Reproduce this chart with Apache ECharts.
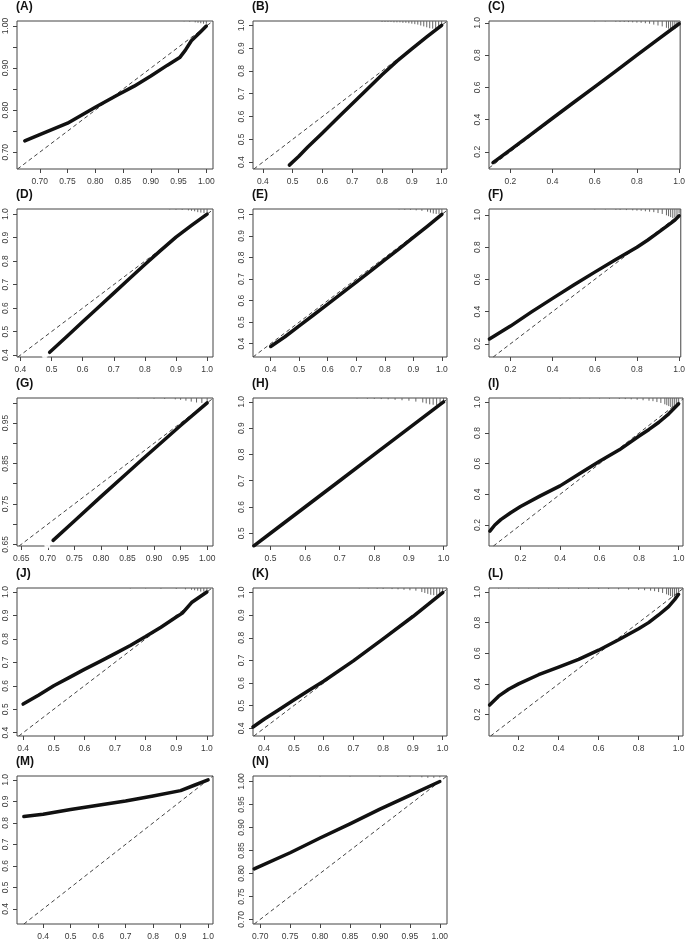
<!DOCTYPE html>
<html>
<head>
<meta charset="utf-8">
<script src="https://cdn.jsdelivr.net/npm/echarts@6/dist/echarts.min.js"></script>
<style>
html, body { margin: 0; padding: 0; background: #fff; }
#main { width: 688px; height: 944px; }
</style>
</head>
<body>
<div id="main"></div>
<script>
// calibration curves (predicted, observed), one per panel
const curveA = [[0.673,0.727],[0.70,0.742],[0.75,0.769],[0.80,0.807],[0.84,0.836],[0.87,0.857],[0.90,0.881],[0.93,0.907],[0.952,0.925],[0.962,0.942],[0.973,0.965],[0.988,0.984],[1.0,1.0]];
const curveB = [[0.489,0.387],[0.52,0.425],[0.55,0.465],[0.6,0.528],[0.65,0.592],[0.7,0.656],[0.75,0.72],[0.8,0.783],[0.85,0.843],[0.9,0.897],[0.95,0.949],[1.0,1.0]];
const curveC = [[0.118,0.132],[0.2,0.212],[0.3,0.31],[0.4,0.408],[0.5,0.506],[0.6,0.603],[0.7,0.701],[0.8,0.8],[0.9,0.898],[1.0,0.995]];
const curveD = [[0.494,0.412],[0.55,0.48],[0.6,0.542],[0.65,0.603],[0.7,0.664],[0.75,0.725],[0.8,0.786],[0.85,0.845],[0.9,0.902],[0.95,0.952],[1.0,1.0]];
const curveE = [[0.4,0.387],[0.45,0.432],[0.5,0.482],[0.55,0.533],[0.6,0.583],[0.65,0.634],[0.7,0.686],[0.75,0.737],[0.8,0.789],[0.85,0.84],[0.9,0.893],[0.95,0.946],[1.0,1.0]];
const curveF = [[0.1,0.23],[0.15,0.27],[0.2,0.31],[0.3,0.398],[0.4,0.482],[0.5,0.565],[0.6,0.645],[0.7,0.723],[0.8,0.8],[0.85,0.843],[0.9,0.89],[0.95,0.938],[0.98,0.968],[1.0,0.995]];
const curveG = [[0.71,0.66],[0.75,0.708],[0.8,0.768],[0.85,0.827],[0.875,0.857],[0.9,0.886],[0.95,0.944],[1.0,1.0]];
const curveH = [[0.452,0.452],[0.5,0.5],[0.6,0.6],[0.7,0.7],[0.8,0.8],[0.9,0.9],[1.0,1.0]];
const curveI = [[0.045,0.16],[0.07,0.2],[0.1,0.235],[0.15,0.28],[0.2,0.32],[0.3,0.39],[0.4,0.455],[0.5,0.535],[0.6,0.615],[0.7,0.69],[0.8,0.78],[0.85,0.823],[0.9,0.87],[0.95,0.925],[1.0,0.99]];
const curveJ = [[0.4,0.522],[0.45,0.56],[0.5,0.6],[0.55,0.635],[0.6,0.67],[0.65,0.703],[0.7,0.737],[0.75,0.772],[0.8,0.81],[0.85,0.85],[0.9,0.893],[0.92,0.91],[0.95,0.955],[1.0,1.0]];
const curveK = [[0.363,0.406],[0.4,0.44],[0.45,0.482],[0.5,0.525],[0.55,0.567],[0.6,0.608],[0.7,0.698],[0.8,0.795],[0.9,0.894],[1.0,1.0]];
const curveL = [[0.055,0.262],[0.1,0.32],[0.15,0.365],[0.2,0.4],[0.3,0.46],[0.4,0.51],[0.5,0.56],[0.6,0.62],[0.7,0.688],[0.8,0.76],[0.85,0.8],[0.9,0.85],[0.95,0.905],[0.98,0.95],[1.0,0.985]];
const curveM = [[0.33,0.83],[0.4,0.84],[0.5,0.862],[0.6,0.882],[0.7,0.902],[0.8,0.925],[0.9,0.95],[0.95,0.975],[1.0,1.0]];
const curveN = [[0.69,0.81],[0.75,0.845],[0.8,0.877],[0.85,0.908],[0.9,0.94],[0.95,0.97],[1.0,1.0]];

// first (open) points in D and G
const openD = [[0.478,0.398]];
const openG = [[0.699,0.647]];

// spike histograms of predictions along the top (x, relative frequency)
const spikeA = [[0.96,0.04],[0.97,0.08],[0.98,0.15],[0.985,0.2],[0.99,0.25],[0.995,0.3],[1.0,0.3]];
const spikeB = [[0.80,0.1],[0.81,0.1],[0.82,0.1],[0.83,0.1],[0.84,0.15],[0.85,0.15],[0.86,0.15],[0.87,0.2],[0.88,0.2],[0.89,0.25],[0.90,0.3],[0.91,0.35],[0.92,0.4],[0.93,0.5],[0.94,0.6],[0.95,0.7],[0.96,0.8],[0.97,0.85],[0.98,0.9],[0.99,0.8],[1.0,0.5]];
const spikeC = [[0.6,0.05],[0.65,0.05],[0.7,0.08],[0.72,0.1],[0.74,0.1],[0.76,0.12],[0.78,0.15],[0.8,0.18],[0.82,0.2],[0.84,0.25],[0.86,0.3],[0.88,0.4],[0.9,0.5],[0.92,0.6],[0.94,0.75],[0.95,0.85],[0.96,0.9],[0.97,0.95],[0.98,0.9],[0.99,0.7],[1.0,0.4]];
const spikeD = [[0.88,0.05],[0.9,0.08],[0.92,0.1],[0.94,0.15],[0.95,0.2],[0.96,0.25],[0.97,0.35],[0.98,0.4],[0.99,0.45],[1.0,0.4]];
const spikeE = [[0.85,0.05],[0.87,0.08],[0.89,0.1],[0.91,0.15],[0.93,0.2],[0.95,0.3],[0.96,0.4],[0.97,0.5],[0.98,0.55],[0.99,0.55],[1.0,0.45]];
const spikeF = [[0.6,0.05],[0.65,0.05],[0.7,0.08],[0.72,0.1],[0.75,0.12],[0.78,0.15],[0.8,0.18],[0.82,0.2],[0.84,0.25],[0.86,0.3],[0.88,0.35],[0.9,0.45],[0.92,0.55],[0.94,0.7],[0.95,0.8],[0.96,0.9],[0.97,1.0],[0.98,0.95],[0.99,0.8],[1.0,0.5]];
const spikeG = [[0.87,0.05],[0.9,0.08],[0.92,0.1],[0.94,0.15],[0.95,0.2],[0.96,0.3],[0.97,0.4],[0.98,0.5],[0.99,0.55],[1.0,0.45]];
const spikeH = [[0.75,0.05],[0.78,0.08],[0.8,0.1],[0.82,0.12],[0.84,0.15],[0.86,0.2],[0.88,0.25],[0.9,0.3],[0.92,0.4],[0.94,0.5],[0.95,0.6],[0.96,0.7],[0.97,0.75],[0.98,0.8],[0.99,0.7],[1.0,0.5]];
const spikeI = [[0.4,0.03],[0.45,0.04],[0.5,0.05],[0.55,0.05],[0.6,0.06],[0.65,0.08],[0.7,0.1],[0.73,0.12],[0.76,0.15],[0.79,0.2],[0.82,0.25],[0.85,0.3],[0.87,0.35],[0.89,0.45],[0.91,0.55],[0.93,0.7],[0.94,0.8],[0.95,0.9],[0.96,1.0],[0.97,1.0],[0.98,0.95],[0.99,0.8],[1.0,0.5]];
const spikeJ = [[0.75,0.05],[0.8,0.05],[0.85,0.08],[0.9,0.1],[0.93,0.15],[0.95,0.2],[0.96,0.25],[0.97,0.3],[0.98,0.4],[0.99,0.4],[1.0,0.35]];
const spikeK = [[0.72,0.05],[0.75,0.06],[0.78,0.08],[0.8,0.1],[0.83,0.12],[0.85,0.15],[0.87,0.2],[0.89,0.25],[0.91,0.3],[0.93,0.45],[0.94,0.55],[0.95,0.65],[0.96,0.75],[0.97,0.8],[0.98,0.8],[0.99,0.7],[1.0,0.45]];
const spikeL = [[0.1,0.05],[0.15,0.04],[0.2,0.05],[0.25,0.04],[0.3,0.06],[0.35,0.05],[0.4,0.08],[0.45,0.06],[0.5,0.08],[0.55,0.1],[0.6,0.1],[0.65,0.12],[0.7,0.15],[0.75,0.18],[0.8,0.2],[0.83,0.25],[0.86,0.3],[0.88,0.35],[0.9,0.45],[0.92,0.55],[0.94,0.7],[0.95,0.8],[0.96,0.9],[0.97,1.0],[0.98,0.95],[0.99,0.85],[1.0,0.5]];
const spikeM = [];
const spikeN = [[0.75,0.05],[0.8,0.05],[0.85,0.06],[0.9,0.08],[0.93,0.1],[0.95,0.12],[0.97,0.15],[0.98,0.2],[0.99,0.2],[1.0,0.15]];

// tick values and labelled ticks
const t2 = [0.2, 0.4, 0.6, 0.8, 1.0];
const t4 = [0.4, 0.5, 0.6, 0.7, 0.8, 0.9, 1.0];
const t5 = [0.5, 0.6, 0.7, 0.8, 0.9, 1.0];
const t65 = [0.65, 0.70, 0.75, 0.80, 0.85, 0.90, 0.95, 1.00];
const t70 = [0.70, 0.75, 0.80, 0.85, 0.90, 0.95, 1.00];
const lab70 = [0.70, 0.80, 0.90, 1.00];
const lab65 = [0.65, 0.75, 0.85, 0.95];

const panels = [
  { name: '(A)', curve: curveA, spikes: spikeA, xr: [0.659, 1.012], yr: [0.66, 1.012], xt: t70, xl: t70, yt: t70, yl: lab70, dx: 2, dy: 2 },
  { name: '(B)', curve: curveB, spikes: spikeB, xr: [0.367, 1.018], yr: [0.37, 1.019], xt: t4, xl: t4, yt: t4, yl: t4, dx: 1, dy: 1 },
  { name: '(C)', curve: curveC, spikes: spikeC, xr: [0.099, 1.005], yr: [0.093, 1.012], xt: t2, xl: t2, yt: t2, yl: t2, dx: 1, dy: 1 },
  { name: '(D)', curve: curveD, spikes: spikeD, open: openD, xr: [0.389, 1.019], yr: [0.392, 1.022], xt: t4, xl: t4, yt: t4, yl: t4, dx: 1, dy: 1 },
  { name: '(E)', curve: curveE, spikes: spikeE, xr: [0.338, 1.018], yr: [0.338, 1.025], xt: t4, xl: t4, yt: t4, yl: t4, dx: 1, dy: 1 },
  { name: '(F)', curve: curveF, spikes: spikeF, xr: [0.098, 1.008], yr: [0.118, 1.037], xt: t2, xl: t2, yt: t2, yl: t2, dx: 1, dy: 1 },
  { name: '(G)', curve: curveG, spikes: spikeG, open: openG, xr: [0.642, 1.011], yr: [0.646, 1.012], xt: t65, xl: t65, yt: t65, yl: lab65, dx: 2, dy: 2 },
  { name: '(H)', curve: curveH, spikes: spikeH, xr: [0.4495, 1.01], yr: [0.4515, 1.015], xt: t5, xl: t5, yt: t5, yl: t5, dx: 1, dy: 1 },
  { name: '(I)', curve: curveI, spikes: spikeI, xr: [0.0405, 1.022], yr: [0.063, 1.028], xt: t2, xl: t2, yt: t2, yl: t2, dx: 1, dy: 1 },
  { name: '(J)', curve: curveJ, spikes: spikeJ, xr: [0.38, 1.02], yr: [0.386, 1.017], xt: t4, xl: t4, yt: t4, yl: t4, dx: 1, dy: 1 },
  { name: '(K)', curve: curveK, spikes: spikeK, xr: [0.363, 1.0145], yr: [0.366, 1.02], xt: t4, xl: t4, yt: t4, yl: t4, dx: 1, dy: 1 },
  { name: '(L)', curve: curveL, spikes: spikeL, xr: [0.052, 1.022], yr: [0.06, 1.026], xt: t2, xl: t2, yt: t2, yl: t2, dx: 1, dy: 1 },
  { name: '(M)', curve: curveM, spikes: spikeM, xr: [0.305, 1.018], yr: [0.33, 1.018], xt: t4, xl: t4, yt: t4, yl: t4, dx: 1, dy: 1 },
  { name: '(N)', curve: curveN, spikes: spikeN, xr: [0.688, 1.012], yr: [0.69, 1.012], xt: t70, xl: t70, yt: t70, yl: t70, dx: 2, dy: 2 }
];

const colLeft = [17, 253, 489];
const colWidth = [196, 194, 194];
const rowTop = [21, 209, 398, 588, 776];
const rowHeight = 148;
const spikeMax = 9;
const font = 'Liberation Sans, Arial, Helvetica, sans-serif';

function makeAxis(i, range, ticks, labels, dec, isY) {
  return {
    type: 'value',
    gridIndex: i,
    min: range[0],
    max: range[1],
    axisLine: { show: false },
    splitLine: { show: false },
    axisTick: { show: true, inside: false, length: 4, customValues: ticks, lineStyle: { color: '#444', width: 1 } },
    axisLabel: {
      show: true,
      customValues: labels,
      margin: isY ? 7 : 8,
      rotate: isY ? 90 : 0,
      fontSize: 8.5,
      color: '#3a3a3a',
      fontFamily: font,
      formatter: v => v.toFixed(dec)
    }
  };
}

function spikeRender(ymax) {
  return function (params, api) {
    const p = api.coord([api.value(0), ymax]);
    const len = api.value(1) * spikeMax;
    return {
      type: 'line',
      shape: { x1: p[0], y1: p[1], x2: p[0], y2: p[1] + len },
      style: { stroke: '#666', lineWidth: 1 }
    };
  };
}

const option = { animation: false, backgroundColor: '#fff', title: [], grid: [], xAxis: [], yAxis: [], series: [] };

panels.forEach((p, i) => {
  const c = i % 3, r = Math.floor(i / 3);
  option.grid.push({
    left: colLeft[c], top: rowTop[r], width: colWidth[c], height: rowHeight,
    show: true, borderColor: '#444', borderWidth: 1, backgroundColor: 'transparent'
  });
  option.title.push({
    text: p.name, left: colLeft[c] - 1, top: rowTop[r] - 20, padding: 0,
    textStyle: { fontSize: 12, fontWeight: 'bold', color: '#111', fontFamily: font }
  });
  option.xAxis.push(makeAxis(i, p.xr, p.xt, p.xl, p.dx, false));
  option.yAxis.push(makeAxis(i, p.yr, p.yt, p.yl, p.dy, true));

  const lo = Math.max(p.xr[0], p.yr[0]);
  const hi = Math.min(p.xr[1], p.yr[1]);
  option.series.push({
    type: 'line', xAxisIndex: i, yAxisIndex: i, silent: true,
    data: [[lo, lo], [hi, hi]], showSymbol: false,
    lineStyle: { color: '#444', width: 1, type: [4, 3] }
  });
  option.series.push({
    type: 'line', xAxisIndex: i, yAxisIndex: i, silent: true,
    data: p.curve, showSymbol: false,
    lineStyle: { color: '#111', width: 3.5, cap: 'round', join: 'round' }
  });
  if (p.open) {
    option.series.push({
      type: 'scatter', xAxisIndex: i, yAxisIndex: i, silent: true,
      data: p.open, symbol: 'emptyCircle', symbolSize: 4,
      itemStyle: { color: '#fff', borderColor: '#333', borderWidth: 1 }
    });
  }
  option.series.push({
    type: 'custom', xAxisIndex: i, yAxisIndex: i, silent: true, clip: false,
    data: p.spikes, renderItem: spikeRender(p.yr[1])
  });
});

const chart = echarts.init(document.getElementById('main'), null, { renderer: 'canvas' });
chart.setOption(option);
</script>
</body>
</html>
